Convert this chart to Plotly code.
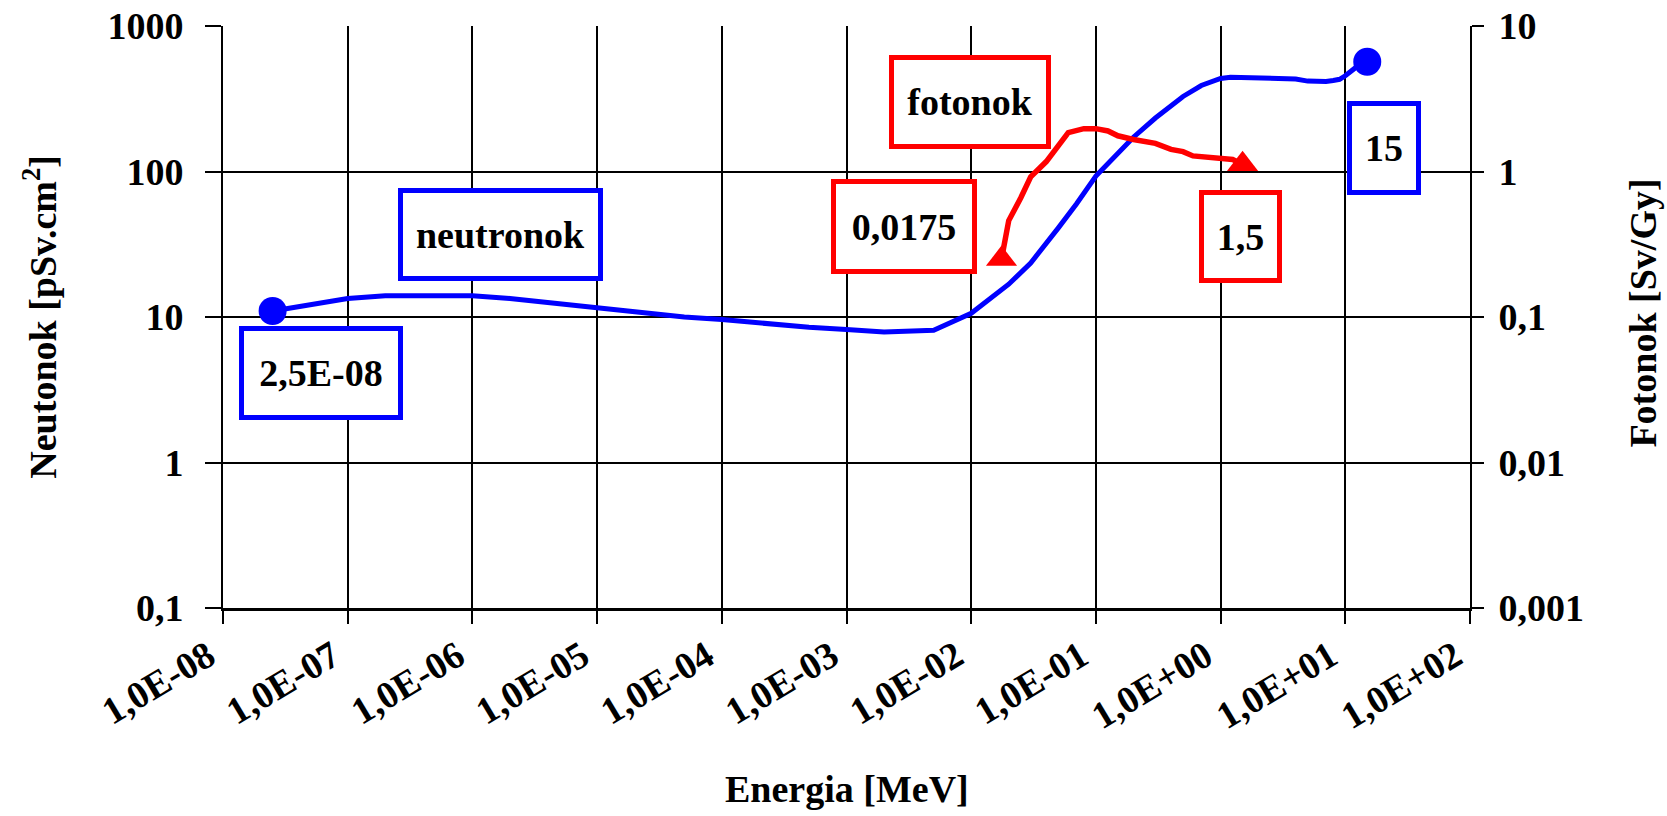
import plotly.graph_objects as go

# Neutron fluence-to-dose conversion coefficients (pSv.cm^2) vs energy (MeV)
neutron_energy = [2.5e-8, 1e-7, 2e-7, 5e-7, 1e-6, 2e-6, 5e-6, 1e-5, 2e-5, 5e-5,
                  1e-4, 2e-4, 5e-4, 1e-3, 2e-3, 5e-3, 1e-2, 2e-2, 3e-2, 5e-2,
                  7e-2, 0.1, 0.15, 0.2, 0.3, 0.5, 0.7, 0.9, 1.0, 1.2,
                  2, 3, 4, 5, 6, 7, 8, 9, 10, 12, 14, 15]
neutron_dose = [11.0, 13.4, 14.0, 14.1, 14.0, 13.4, 12.3, 11.4, 10.7, 10.0,
                9.6, 9.1, 8.5, 8.2, 7.9, 8.1, 10.6, 16.8, 23.5, 41.0,
                60.0, 93.0, 135.0, 172.0, 233.0, 328.0, 390.0, 425.0, 436.0, 445.0,
                440.0, 434.0, 432.0, 418.0, 415.0, 416.0, 422.0, 430.0, 455.0, 515.0, 555.0, 568.0]

# Photon conversion coefficients (Sv/Gy) vs energy (MeV)
photon_energy = [0.0175, 0.02, 0.025, 0.03, 0.04, 0.05, 0.06, 0.08, 0.1, 0.125,
                 0.15, 0.2, 0.3, 0.4, 0.5, 0.6, 0.8, 1.0, 1.25, 1.5]
photon_dose = [0.25, 0.46, 0.66, 0.92, 1.17, 1.51, 1.85, 1.97, 1.97, 1.90,
               1.76, 1.66, 1.56, 1.42, 1.37, 1.28, 1.25, 1.24, 1.21, 1.12]

x_ticks = [1e-8, 1e-7, 1e-6, 1e-5, 1e-4, 1e-3, 1e-2, 1e-1, 1e0, 1e1, 1e2]
x_ticktext = ["1,0E-08", "1,0E-07", "1,0E-06", "1,0E-05", "1,0E-04", "1,0E-03",
              "1,0E-02", "1,0E-01", "1,0E+00", "1,0E+01", "1,0E+02"]
y_ticks = [0.1, 1, 10, 100, 1000]
y_ticktext = ["0,1", "1", "10", "100", "1000"]
y2_ticks = [0.001, 0.01, 0.1, 1, 10]
y2_ticktext = ["0,001", "0,01", "0,1", "1", "10"]

FONT = "Liberation Serif"
BLUE = "#0000FF"
RED = "#FF0000"
TXT = dict(family=FONT, size=38, color="black", weight="bold")

fig = go.Figure()

fig.add_trace(go.Scatter(
    x=neutron_energy, y=neutron_dose, mode="lines",
    line=dict(color=BLUE, width=5), yaxis="y", showlegend=False))
fig.add_trace(go.Scatter(
    x=[neutron_energy[0], neutron_energy[-1]],
    y=[neutron_dose[0], neutron_dose[-1]], mode="markers",
    marker=dict(symbol="circle", size=28, color=BLUE), yaxis="y", showlegend=False))

fig.add_trace(go.Scatter(
    x=photon_energy, y=photon_dose, mode="lines",
    line=dict(color=RED, width=5.5), yaxis="y2", showlegend=False))
fig.add_trace(go.Scatter(
    x=[photon_energy[0], photon_energy[-1]],
    y=[photon_dose[0], photon_dose[-1]], mode="markers",
    marker=dict(symbol="triangle-up", size=27, color=RED), yaxis="y2", showlegend=False))

axis_common = dict(
    type="log", ticks="outside", tickcolor="black", tickwidth=2,
    showline=True, linecolor="black", tickfont=TXT, automargin=False,
)

fig.update_layout(
    width=1667, height=816,
    margin=dict(l=223, r=197, t=26, b=208, autoexpand=False),
    paper_bgcolor="white", plot_bgcolor="white",
    xaxis=dict(axis_common, range=[-8, 2], tickvals=x_ticks, ticktext=x_ticktext,
               tickangle=-31, ticklen=13, linewidth=3,
               ticklabelshift=-15, ticklabelstandoff=-5,
               showgrid=True, gridcolor="black", gridwidth=1.5),
    yaxis=dict(axis_common, range=[-1, 3], tickvals=y_ticks, ticktext=y_ticktext,
               ticklen=16, linewidth=2, ticklabelstandoff=14,
               showgrid=True, gridcolor="black", gridwidth=1.5),
    yaxis2=dict(axis_common, range=[-3, 1], tickvals=y2_ticks, ticktext=y2_ticktext,
                overlaying="y", side="right", ticklen=12, linewidth=2,
                ticklabelstandoff=7, showgrid=False),
)

# Axis titles
fig.add_annotation(text="Energia [MeV]", xref="paper", yref="paper",
                   x=0.5, y=-0.311, showarrow=False, font=TXT,
                   xanchor="center", yanchor="middle")
fig.add_annotation(text="Neutonok [pSv.cm<sup>2</sup>]", xref="paper", yref="paper",
                   x=-0.147, y=0.5, showarrow=False, font=TXT, textangle=-90,
                   xanchor="center", yanchor="middle")
fig.add_annotation(text="Fotonok [Sv/Gy]", xref="paper", yref="paper",
                   x=1.138, y=0.506, showarrow=False, font=TXT, textangle=-90,
                   xanchor="center", yanchor="middle")

# Boxed series labels
labels = [
    ("neutronok", 0.2227, 0.642, 195, 83, BLUE),
    ("2,5E-08", 0.0787, 0.4036, 154, 84, BLUE),
    ("15", 0.9313, 0.7907, 64, 84, BLUE),
    ("fotonok", 0.5993, 0.8693, 152, 84, RED),
    ("0,0175", 0.546, 0.656, 136, 85, RED),
    ("1,5", 0.8162, 0.6375, 73, 83, RED),
]
for text, px, py, w, h, col in labels:
    fig.add_annotation(text=text, xref="paper", yref="paper", x=px, y=py,
                       showarrow=False, font=TXT, width=w, height=h,
                       xanchor="center", yanchor="middle", align="center",
                       bordercolor=col, borderwidth=5, borderpad=0,
                       bgcolor="white")

fig.write_html("out.html")
